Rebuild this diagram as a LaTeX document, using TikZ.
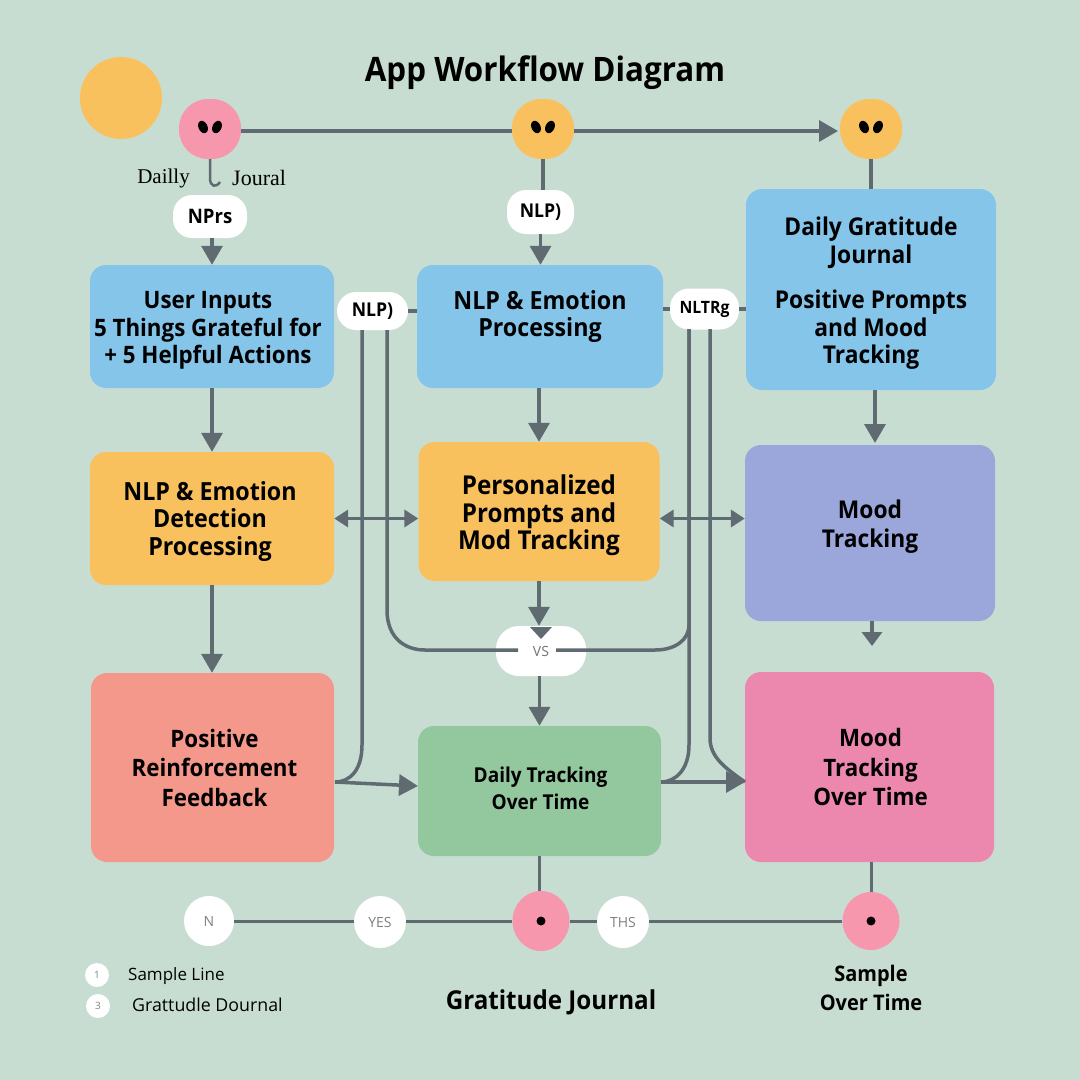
\documentclass[tikz,border=0pt]{standalone}
\usepackage{fontspec}
\setmainfont{Open Sans}
\newfontfamily\hvy{Open Sans Bold}[FakeStretch=0.93]
\newfontfamily\serifl{Liberation Serif}
\usetikzlibrary{arrows.meta,calc,shapes.geometric}
\definecolor{bgc}{HTML}{C8DDD2}
\definecolor{linec}{HTML}{5F6B70}
\definecolor{blueb}{HTML}{85C5EA}
\definecolor{orangeb}{HTML}{F8C15D}
\definecolor{purpleb}{HTML}{9BA6DB}
\definecolor{salmonb}{HTML}{F3988B}
\definecolor{greenb}{HTML}{93C79E}
\definecolor{pinkb}{HTML}{EC87AE}
\definecolor{pinkc}{HTML}{F797AE}
\tikzset{
  x=1pt,y=-1pt,
  flowbox/.style={rounded corners=16pt,inner sep=0pt},
  boxtext/.style={align=center,inner sep=0pt,font=\fontsize{25}{27.5}\selectfont\hvy,text=black},
  wideline/.style={font=\fontsize{24.5}{29.5}\selectfont\hvy},
  lamp/.style={rounded corners=29pt,inner sep=0pt,minimum width=62pt,minimum height=60pt},
  pill/.style={fill=white,rounded corners=19pt,inner sep=0pt,font=\fontsize{19}{20}\selectfont\hvy,text=black},
  whitedot/.style={circle,fill=white,inner sep=0pt,font=\fontsize{14}{16}\selectfont,text=black!50},
  eye/.style={ellipse,fill=black,inner sep=0pt,minimum width=9pt,minimum height=13pt},
  conn/.style={draw=linec,line width=3.5pt},
  arr/.style={conn,-{Triangle[length=19pt,width=21pt]}},
  arrs/.style={conn,{Triangle[length=14pt,width=17pt]}-{Triangle[length=14pt,width=17pt]}},
  plain/.style={inner sep=0pt,align=center,text=black},
}
\begin{document}
\begin{tikzpicture}
\useasboundingbox (0,0) rectangle (1080,1080);
\fill[bgc] (0,0) rectangle (1080,1080);
\node[plain,font=\fontsize{33.7}{38}\selectfont\hvy] (title) at (545,73) {App Workflow Diagram};
\node[circle,fill=orangeb,minimum size=82pt,inner sep=0pt] (sun) at (121,98) {};
% top lamps
\node[lamp,fill=pinkc] (lampa) at (210,129) {};
\node[lamp,fill=orangeb] (lampb) at (543,129) {};
\node[lamp,fill=orangeb] (lampc) at (871,129) {};
\foreach \n/\xx in {a/210,b/543,c/871}{
  \node[eye,rotate=25] (eye\n l) at (\xx-7,127) {};
  \node[eye,rotate=-25] (eye\n r) at (\xx+7,127) {};
}
% boxes
\node[flowbox,fill=blueb,minimum width=244pt,minimum height=123pt,label={[boxtext,font=\fontsize{24}{27.5}\selectfont\hvy,yshift=-4pt,xshift=-4pt]center:{User Inputs\\5 Things Grateful for\\+ 5 Helpful Actions}}] (inputs) at (212,326.5) {};
\node[flowbox,fill=blueb,minimum width=246pt,minimum height=123pt,label={[boxtext,yshift=10pt]center:{NLP \& Emotion\\Processing}}] (nlp) at (540,326.5) {};
\node[flowbox,fill=blueb,minimum width=250pt,minimum height=201pt,label={[boxtext,font=\fontsize{24.5}{27.5}\selectfont\hvy,yshift=-4pt]center:{Daily Gratitude\\Journal\\[18pt]Positive Prompts\\and Mood\\Tracking}}] (daily) at (871,289.5) {};
\node[flowbox,fill=orangeb,minimum width=244pt,minimum height=133pt,label={[boxtext,yshift=-2.5pt,xshift=-2pt]center:{NLP \& Emotion\\Detection\\Processing}}] (detect) at (212,518.5) {};
\node[flowbox,fill=orangeb,minimum width=241pt,minimum height=139pt,label={[boxtext,font=\fontsize{26}{27.5}\selectfont\hvy,yshift=-4pt]center:{Personalized\\Prompts and\\Mod Tracking}}] (personal) at (539,511.5) {};
\node[flowbox,fill=purpleb,minimum width=250pt,minimum height=176pt,label={[boxtext,wideline,yshift=6.5pt]center:{Mood\\Tracking}}] (mood) at (870,533) {};
\node[flowbox,fill=salmonb,minimum width=243pt,minimum height=189pt,label={[boxtext,font=\fontsize{24}{29.5}\selectfont\hvy,xshift=2pt]center:{Positive\\Reinforcement\\Feedback}}] (positive) at (212.5,767.5) {};
\node[flowbox,fill=greenb,minimum width=243pt,minimum height=130pt,label={[boxtext,font=\fontsize{20.5}{27}\selectfont\hvy,yshift=3pt,xshift=1pt]center:{Daily Tracking\\Over Time}}] (tracking) at (539.5,791) {};
\node[flowbox,fill=pinkb,minimum width=249pt,minimum height=190pt,label={[boxtext,font=\fontsize{24}{29.5}\selectfont\hvy,xshift=1pt]center:{Mood\\Tracking\\Over Time}}] (moodtime) at (869.5,767) {};
% pills
\node[pill,minimum width=74pt,minimum height=43pt,font=\fontsize{20}{21}\selectfont\hvy] (pilla) at (210,216.5) {NPrs};
\node[pill,minimum width=67pt,minimum height=44pt] (pillb) at (540.5,212) {NLP)};
\node[pill,minimum width=71pt,minimum height=38pt] (pillc) at (372.5,311) {NLP)};
\node[pill,minimum width=69pt,minimum height=41pt,font=\fontsize{17}{18}\selectfont\hvy] (pilld) at (704.5,309) {NLTRg};
% connector anchors
\coordinate (cl1) at (362,330);
\coordinate (cl2) at (387,330);
\coordinate (cr1) at (689,329);
\coordinate (cr2) at (710,329);
\coordinate (posout) at (335,782);
\coordinate (trkin) at (418,786);
\coordinate (trkout) at (661,782);
\coordinate (mtin) at (745,782);
\coordinate (dailyout) at (875,390);
\coordinate (moodin) at (875,443);
\coordinate (moodout) at (872,621);
\coordinate (moodend) at (872,646);
\coordinate (hookend) at (220,182);
% connectors
\draw[conn] (lampa.east |- 0,131) -- (lampb.west |- 0,131);
\draw[arr] (lampb.east |- 0,131) -- (838,131);
\draw[conn] (lampc.south) -- (lampc.south |- daily.north);
\draw[conn] (lampb.south) -- (lampb.south |- pillb.north);
\draw[arr] (pillb.south) -- (pillb.south |- nlp.north);
\draw[arr] (inputs.north |- pilla.south) -- (inputs.north);
\draw[conn,line width=2.5pt] (lampa.south) -- (210,178) .. controls (210,187) and (216,188) .. (hookend);
\draw[arr] (inputs.south) -- (detect.north);
\draw[arr] (detect.south) -- (detect.south |- positive.north);
\draw[arr] (personal.north |- nlp.south) -- (personal.north);
\draw[arrs] (detect.east) -- (detect.east -| personal.west);
\draw[arrs] (personal.east |- detect.east) -- (mood.west |- detect.east);
\draw[arr] (dailyout) -- (moodin);
\draw[arr,-{Triangle[length=14pt,width=20pt]}] (moodout) -- (moodend);
\draw[conn] (pillc.east) -- (pillc.east -| nlp.west);
\draw[conn] (nlp.east |- pilld.west) -- (pilld.west);
\draw[conn] (pilld.east) -- (pilld.east -| daily.west);
% white VS pill
\node[fill=white,rounded corners=23pt,minimum width=90pt,minimum height=50pt,inner sep=0pt,font=\fontsize{14}{15}\selectfont,text=black!55] (vs) at (541,651) {VS};
\path[fill=linec] (530,627) -- (552,627) -- (541,639) -- cycle;
\draw[arr] (personal.south) -- (personal.south |- vs.north);
\draw[conn] (cl1) -- (362,745) .. controls (362,770) and (350,782) .. (posout);
\draw[arr] (posout) -- (trkin);
\draw[conn] (cl2) -- (387,610) .. controls (387,638) and (405,650) .. (425,650) -- (518,650);
\draw[conn] (cr1) -- (689,625) .. controls (689,640) and (675,650) .. (655,650) -- (556,650);
\draw[conn] (cr1) -- (689,745) .. controls (689,770) and (675,782) .. (trkout);
\draw[conn] (cr2) -- (710,738) .. controls (710,757) and (725,768) .. (mtin);
\draw[arr] (trkout) -- (mtin);
\draw[arr] (tracking.north |- vs.south) -- (tracking.north);
% bottom row
\node[whitedot,minimum size=50pt] (no) at (209,921) {N};
\node[whitedot,minimum size=52pt] (yes) at (380,922) {YES};
\node[ellipse,fill=pinkc,minimum width=57pt,minimum height=60pt,inner sep=0pt] (pinka) at (541,921) {};
\node[whitedot,minimum size=52pt] (ths) at (623,922) {THS};
\node[ellipse,fill=pinkc,minimum width=57pt,minimum height=58pt,inner sep=0pt] (pinkb) at (871,921) {};
\node[circle,fill=black,minimum size=9pt,inner sep=0pt] (dota) at (541,921) {};
\node[circle,fill=black,minimum size=9pt,inner sep=0pt] (dotb) at (871,921) {};
\draw[conn,line width=3pt] (no.east |- 0,921) -- (yes.west |- 0,921);
\draw[conn,line width=3pt] (yes.east |- 0,921) -- (pinka.west);
\draw[conn,line width=3pt] (pinka.east) -- (ths.west |- 0,921);
\draw[conn,line width=3pt] (ths.east |- 0,921) -- (pinkb.west);
\draw[conn,line width=3pt] (tracking.south) -- (pinka.north -| tracking.south);
\draw[conn,line width=3pt] (pinkb.north |- moodtime.south) -- (pinkb.north);
% legend and labels
\node[whitedot,minimum size=24pt,font=\fontsize{10}{12}\selectfont] (lega) at (97,975) {1};
\node[whitedot,minimum size=24pt,font=\fontsize{10}{12}\selectfont] (legb) at (98,1006) {3};
\node[plain,anchor=west,font=\fontsize{17}{20}\selectfont] (lta) at (128,976) {Sample Line};
\node[plain,anchor=west,font=\fontsize{17.8}{20}\selectfont] (ltb) at (132,1005) {Grattudle Dournal};
\node[plain,font=\fontsize{26}{26}\selectfont\hvy] (gj) at (551,1002) {Gratitude Journal};
\node[plain,font=\fontsize{21.5}{29}\selectfont\hvy] (sot) at (871,987.5) {Sample\\Over Time};
\node[plain,anchor=east,font=\fontsize{21}{22}\selectfont\serifl] (dl) at (190,178) {Dailly};
\node[plain,anchor=west,font=\fontsize{22}{22}\selectfont\serifl] (jr) at (232,178) {Joural};
\end{tikzpicture}
\end{document}
